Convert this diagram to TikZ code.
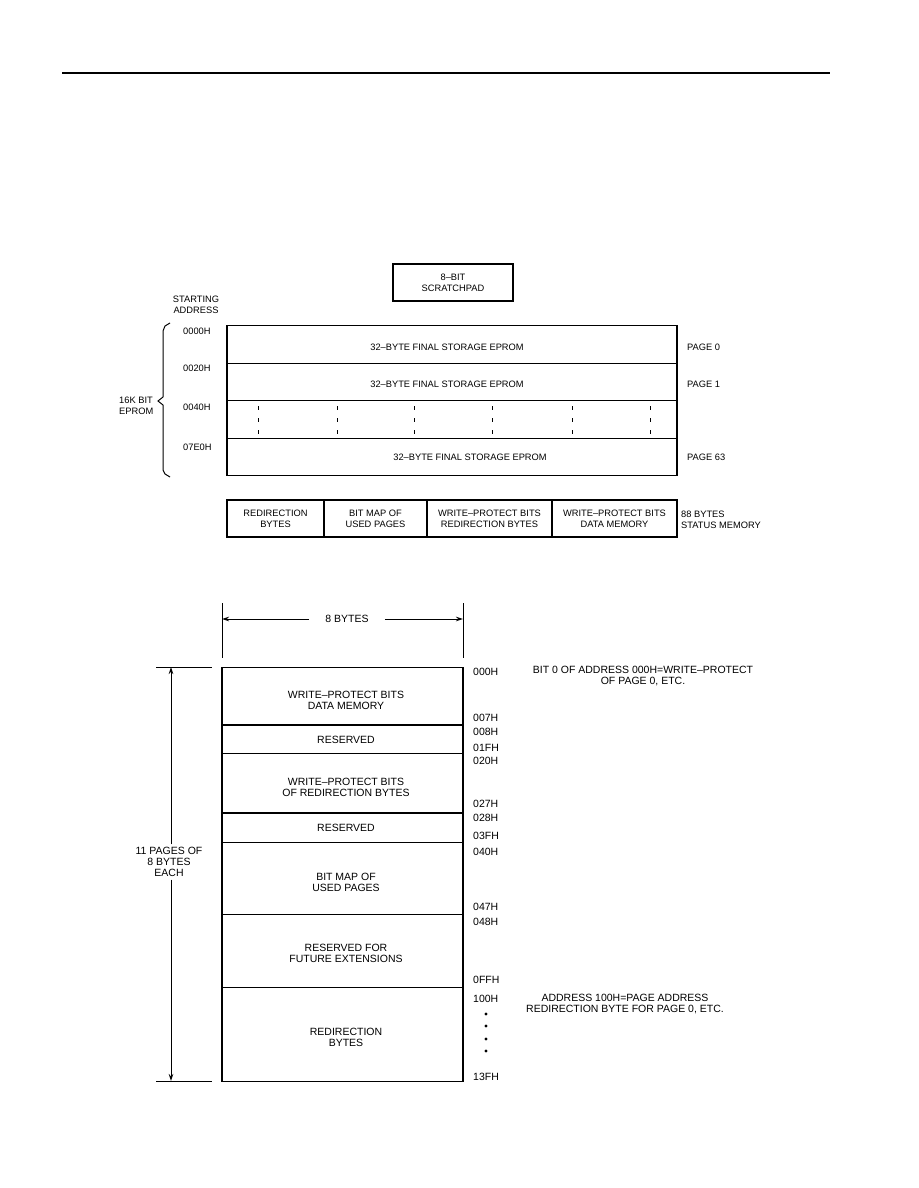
\documentclass[tikz,border=0pt]{standalone}
\usepackage{fontspec}
\setmainfont{Liberation Sans}
\usetikzlibrary{arrows.meta}
\begin{document}
\begin{tikzpicture}[x=1pt,y=-1pt,
  ts/.style={font=\fontsize{9.3}{11}\selectfont, inner sep=0pt, align=center},
  tb/.style={font=\fontsize{10.5}{11}\selectfont, inner sep=0pt, align=center},
  frame/.style={draw, line width=1.2pt},
  cellnode/.style={draw, line width=1.2pt, inner sep=0pt, minimum height=37pt, ts},
  rownode/.style={draw, line width=1.2pt, inner sep=0pt, minimum width=241pt, minimum height=#1, anchor=north},
  pagenode/.style={draw, line width=1.2pt, inner sep=0pt, minimum width=450pt, minimum height=#1, anchor=north},
  tip/.style={-{Stealth[length=7pt,width=4.5pt]}, line width=1pt},
]
\useasboundingbox (0,0) rectangle (918,1188);
% header rule
\coordinate (h1) at (62,73);
\coordinate (h2) at (830,73);
\draw[line width=1.2pt] (h1) -- (h2);

% ---------- top section ----------
\node[frame, ts, minimum width=120pt, minimum height=37pt] (sp) at (453,282.5) {8–BIT\\SCRATCHPAD};
\node[ts] (sa) at (196,305) {STARTING\\ADDRESS};

% EPROM pages
\node[pagenode=38pt] (p0) at (452,325) {};
\node[pagenode=37pt] (p1) at (452,363) {};
\node[pagenode=38pt] (pd) at (452,400) {};
\node[pagenode=37pt] (p63) at (452,438) {};
\node[ts] (t0) at (447,347) {32–BYTE FINAL STORAGE EPROM};
\node[ts] (t1) at (447,384) {32–BYTE FINAL STORAGE EPROM};
\node[ts] (t63) at (470,457) {32–BYTE FINAL STORAGE EPROM};
\foreach \x in {258,337,414,492,572,650}
  \draw[line width=1pt, dash pattern=on 4pt off 8pt] (\x,406) -- (\x,437);

\node[ts, anchor=west] (a0) at (183,331) {0000H};
\node[ts, anchor=west] (a1) at (183,368) {0020H};
\node[ts, anchor=west] (a2) at (183,407) {0040H};
\node[ts, anchor=west] (a3) at (183,447) {07E0H};

\node[ts, anchor=west] (g0) at (687,347) {PAGE 0};
\node[ts, anchor=west] (g1) at (687,384) {PAGE 1};
\node[ts, anchor=west] (g63) at (687,457) {PAGE 63};

% brace
\coordinate (bt) at (170,323);
\coordinate (bm) at (158,401);
\coordinate (bb) at (170,477);
\draw[line width=1pt] (bt) -- (165,326) -- (163,331) -- (163,397) -- (bm) -- (163,405) -- (163,470) -- (165,474) -- (bb);
\node[ts, anchor=west, align=left] (eb) at (119,406) {16K BIT\\EPROM};

% status memory row
\node[cellnode, minimum width=97pt] (c1) at (275.5,518.5) {REDIRECTION\\BYTES};
\node[cellnode, minimum width=103pt] (c2) at (375.5,518.5) {BIT MAP OF\\USED PAGES};
\node[cellnode, minimum width=125pt] (c3) at (489.5,518.5) {WRITE–PROTECT BITS\\REDIRECTION BYTES};
\node[cellnode, minimum width=125pt] (c4) at (614.5,518.5) {WRITE–PROTECT BITS\\DATA MEMORY};
\node[ts, anchor=west, align=left] (sm) at (681,519.5) {88 BYTES\\STATUS MEMORY};

% ---------- bottom section ----------
\coordinate (vl1) at (222,603);
\coordinate (vl2) at (222,658);
\coordinate (vr1) at (463,603);
\coordinate (vr2) at (463,658);
\draw[line width=1pt] (vl1) -- (vl2);
\draw[line width=1pt] (vr1) -- (vr2);
\coordinate (dl) at (222,619);
\coordinate (dr) at (463,619);
\node[tb] (w8) at (347,619) {8 BYTES};
\draw[tip] ([xshift=-16pt]w8.west) -- (dl);
\draw[tip] ([xshift=16pt]w8.east) -- (dr);

\node[rownode=57pt] (r1) at (342.5,667) {};
\node[rownode=29pt] (r2) at (342.5,724) {};
\node[rownode=59pt] (r3) at (342.5,753) {};
\node[rownode=30pt] (r4) at (342.5,812) {};
\node[rownode=72pt] (r5) at (342.5,842) {};
\node[rownode=73pt] (r6) at (342.5,914) {};
\node[rownode=94pt] (r7) at (342.5,987) {};
\draw[line width=1.8pt] (r1.south west) -- (r1.south east);
\draw[line width=1.8pt] (r3.south west) -- (r3.south east);

\node[tb] (x1) at (346,700) {WRITE–PROTECT BITS\\DATA MEMORY};
\node[tb] (x2) at (346,740) {RESERVED};
\node[tb] (x3) at (346,787) {WRITE–PROTECT BITS\\OF REDIRECTION BYTES};
\node[tb] (x4) at (346,828) {RESERVED};
\node[tb] (x5) at (346,882.5) {BIT MAP OF\\USED PAGES};
\node[tb] (x6) at (346,953) {RESERVED FOR\\FUTURE EXTENSIONS};
\node[tb] (x7) at (346,1037) {REDIRECTION\\BYTES};

\node[tb, anchor=west] (d1) at (473,672) {000H};
\node[tb, anchor=west] (d2) at (473,718) {007H};
\node[tb, anchor=west] (d3) at (473,732) {008H};
\node[tb, anchor=west] (d4) at (473,748) {01FH};
\node[tb, anchor=west] (d5) at (473,761) {020H};
\node[tb, anchor=west] (d6) at (473,804) {027H};
\node[tb, anchor=west] (d7) at (473,818) {028H};
\node[tb, anchor=west] (d8) at (473,836) {03FH};
\node[tb, anchor=west] (d9) at (473,852) {040H};
\node[tb, anchor=west] (d10) at (473,907) {047H};
\node[tb, anchor=west] (d11) at (473,922) {048H};
\node[tb, anchor=west] (d12) at (473,980) {0FFH};
\node[tb, anchor=west] (d13) at (473,999) {100H};
\node[tb, anchor=west] (d14) at (473,1077) {13FH};
\foreach \y in {1014,1026,1039,1051}
  \fill (486,\y) circle (1.6pt);

% left dimension
\coordinate (lt1) at (156,667);
\coordinate (lt2) at (212,667);
\coordinate (lb1) at (156,1081);
\coordinate (lb2) at (212,1081);
\draw[line width=1pt] (lt1) -- (lt2);
\draw[line width=1pt] (lb1) -- (lb2);
\coordinate (atop) at (171,667);
\coordinate (abot) at (171,1081);
\node[tb, outer sep=3pt] (pg) at (169,862) {11 PAGES OF\\8 BYTES\\EACH};
\coordinate (pgt) at (pg.north -| atop);
\coordinate (pgb) at (pg.south -| abot);
\draw[tip] (pgt) -- (atop);
\draw[tip] (pgb) -- (abot);

% notes
\node[tb] (n1) at (643,675.5) {BIT 0 OF ADDRESS 000H=WRITE–PROTECT\\OF PAGE 0, ETC.};
\node[tb] (n2) at (625,1003.5) {ADDRESS 100H=PAGE ADDRESS\\REDIRECTION BYTE FOR PAGE 0, ETC.};
\end{tikzpicture}
\end{document}
